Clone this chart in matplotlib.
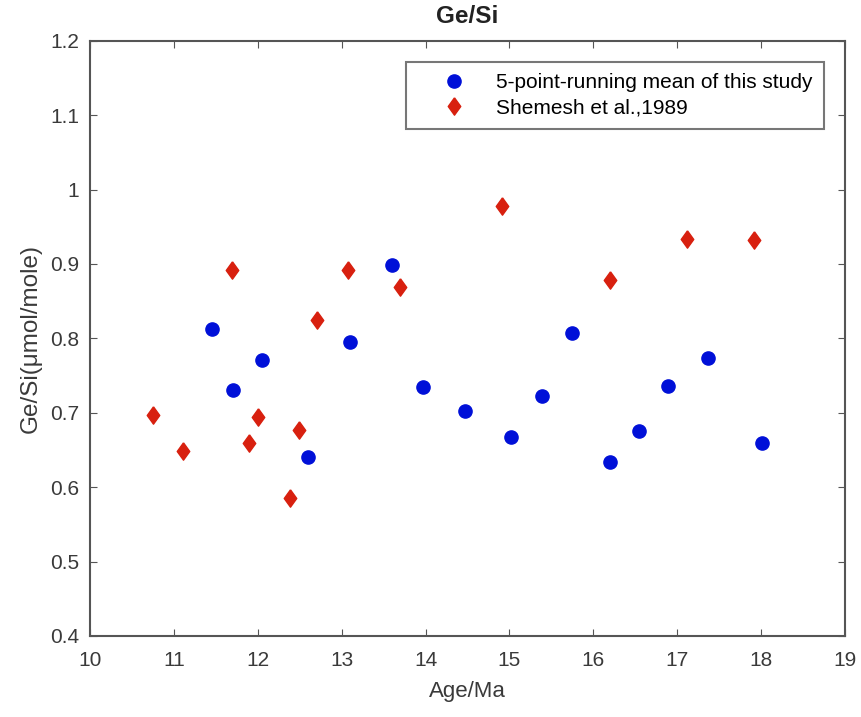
import matplotlib
matplotlib.use("Agg")
import matplotlib.pyplot as plt

plt.rcParams['font.family'] = ['Liberation Sans', 'DejaVu Sans']

# 5-point running mean of this study
study_age = [11.46, 11.705, 12.055, 12.60, 13.10, 13.60, 13.97, 14.47,
             15.02, 15.39, 15.74, 16.20, 16.54, 16.89, 17.37, 18.01]
study_gesi = [0.813, 0.731, 0.771, 0.640, 0.795, 0.899, 0.734, 0.703,
              0.667, 0.722, 0.807, 0.634, 0.676, 0.736, 0.773, 0.660]

# Shemesh et al., 1989
shem_age = [10.75, 11.11, 11.69, 11.90, 12.00, 12.39, 12.49, 12.70,
            13.07, 13.70, 14.91, 16.20, 17.12, 17.91]
shem_gesi = [0.697, 0.648, 0.892, 0.659, 0.694, 0.586, 0.677, 0.825,
             0.892, 0.869, 0.978, 0.878, 0.934, 0.932]

axis_grey = '#555555'
text_grey = '#3a3a3a'

# MATLAB-like diamond (a bit wider than matplotlib's thin 'd')
diamond = [(0, 1), (0.72, 0), (0, -1), (-0.72, 0), (0, 1)]

fig = plt.figure(figsize=(8.62, 7.17), dpi=100)
ax = fig.add_axes([0.1044, 0.1130, 0.8759, 0.8302])

ax.plot(study_age, study_gesi, 'o', color='#0010d8', markersize=9.5,
        linestyle='none', label='5-point-running mean of this study')
ax.plot(shem_age, shem_gesi, marker=diamond, color='#d8200f', markersize=12.5,
        linestyle='none', label='Shemesh et al.,1989')

ax.set_xlim(10, 19)
ax.set_ylim(0.4, 1.2)
ax.set_xticks(range(10, 20))
ax.set_yticks([0.4, 0.5, 0.6, 0.7, 0.8, 0.9, 1.0, 1.1, 1.2])
ax.set_yticklabels(['0.4', '0.5', '0.6', '0.7', '0.8', '0.9', '1', '1.1', '1.2'])

ax.tick_params(direction='in', top=True, right=True, length=5,
               color=axis_grey, labelcolor=text_grey, labelsize=15)
ax.tick_params(axis='x', pad=11)
ax.tick_params(axis='y', pad=8)
for s in ax.spines.values():
    s.set_color(axis_grey)
    s.set_linewidth(1.5)

ax.set_xlabel('Age/Ma', fontsize=16, color=text_grey, labelpad=8)
ax.set_ylabel('Ge/Si(μmol/mole)', fontsize=17.5, color=text_grey, labelpad=6)
ax.set_title('Ge/Si', fontsize=17.5, fontweight='bold', color='#222222', pad=13)

leg = ax.legend(loc='upper right', fontsize=15, frameon=True, fancybox=False,
                borderaxespad=1.0, handlelength=3.5, handletextpad=0.3,
                borderpad=0.55, labelspacing=0.32)
leg.get_frame().set_edgecolor(axis_grey)
leg.get_frame().set_linewidth(1.5)

fig.savefig('out.png', dpi=100)
